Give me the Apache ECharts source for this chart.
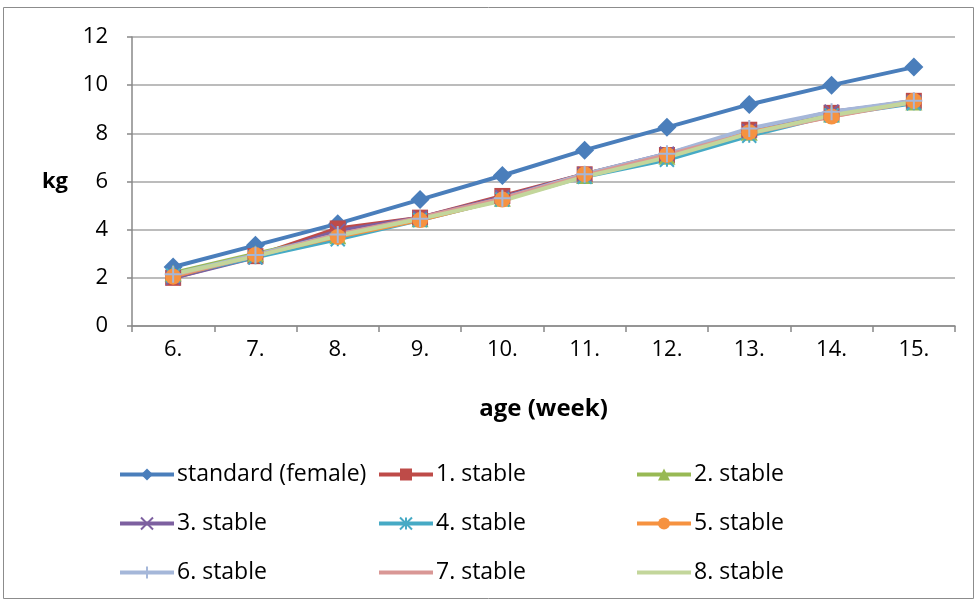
<!DOCTYPE html>
<html>
<head>
<meta charset="utf-8">
<script src="https://cdn.jsdelivr.net/npm/echarts@6/dist/echarts.min.js"></script>
<style>
  html, body { margin: 0; padding: 0; background: #fff; }
  #chart { width: 977px; height: 604px; }
</style>
</head>
<body>
<div id="chart"></div>
<script>
// Weekly body weight (kg) by age: female standard vs. eight stables
const weeks = ['6.', '7.', '8.', '9.', '10.', '11.', '12.', '13.', '14.', '15.'];
const yTicks = { min: 0, max: 12, step: 2 };

const standardFemale = [2.45, 3.35, 4.25, 5.25, 6.25, 7.3, 8.25, 9.2, 10.0, 10.75];
const stable1 = [2.0, 2.9, 4.05, 4.5, 5.4, 6.3, 7.1, 8.15, 8.85, 9.35];
const stable2 = [2.2, 3.0, 3.75, 4.45, 5.3, 6.25, 7.05, 8.05, 8.8, 9.3];
const stable3 = [2.0, 2.85, 3.95, 4.5, 5.35, 6.3, 7.15, 8.1, 8.9, 9.3];
const stable4 = [2.1, 2.85, 3.6, 4.4, 5.25, 6.2, 6.9, 7.9, 8.75, 9.25];
const stable5 = [2.05, 2.95, 3.7, 4.4, 5.25, 6.3, 7.1, 8.05, 8.7, 9.35];
const stable6 = [2.15, 2.95, 3.8, 4.45, 5.3, 6.3, 7.15, 8.2, 8.9, 9.35];
const stable7 = [2.1, 2.9, 3.8, 4.5, 5.3, 6.25, 7.1, 8.0, 8.7, 9.3];
const stable8 = [2.15, 2.9, 3.75, 4.45, 5.2, 6.2, 7.0, 8.0, 8.75, 9.3];

const seriesNames = ['standard (female)', '1. stable', '2. stable', '3. stable', '4. stable',
                     '5. stable', '6. stable', '7. stable', '8. stable'];
const seriesData = [standardFemale, stable1, stable2, stable3, stable4,
                    stable5, stable6, stable7, stable8];

const FONT = '"Open Sans", Lato, sans-serif';
const colors = ['#4A7EBB', '#BE4B48', '#98B954', '#7D60A0', '#46AAC5',
                '#F69240', '#A5B7D9', '#D99795', '#C3D69B'];
const crossPath = 'path://M0,0L10,10M10,0L0,10';
const starPath = 'path://M0,0L10,10M10,0L0,10M5,0L5,10';
const plusPath = 'path://M5,0L5,10M0,5L10,5';
const symbols = [
  { s: 'diamond', size: 19, stroke: false },
  { s: 'rect', size: 16, stroke: false },
  { s: 'triangle', size: 17, stroke: false },
  { s: crossPath, size: 14, stroke: true },
  { s: starPath, size: 14, stroke: true },
  { s: 'circle', size: 16, stroke: false },
  { s: plusPath, size: 17, stroke: true },
  { s: 'none', size: 0, stroke: false },
  { s: 'none', size: 0, stroke: false }
];

const series = seriesNames.map((name, i) => ({
  name,
  type: 'line',
  data: seriesData[i],
  symbol: symbols[i].s,
  symbolSize: symbols[i].size,
  showSymbol: symbols[i].s !== 'none',
  lineStyle: { color: colors[i], width: 4 },
  itemStyle: symbols[i].stroke
    ? { color: colors[i], borderColor: colors[i], borderWidth: 2 }
    : { color: colors[i], borderWidth: 0 },
  emphasis: { disabled: true },
  animation: false
}));

// legend: 3 columns x 3 rows, one entry per legend box
const colLeft = [118, 377, 635];
const rowTop = [463, 512, 561];
const legends = seriesNames.map((name, i) => ({
  data: [symbols[i].s === 'none'
    ? { name, itemStyle: { opacity: 0 } }
    : { name }],
  left: colLeft[i % 3],
  top: rowTop[Math.floor(i / 3)],
  padding: 0,
  itemGap: 0,
  itemWidth: 54,
  itemHeight: 15,
  selectedMode: false,
  lineStyle: { width: 4 },
  textStyle: { fontFamily: FONT, fontSize: 23, color: '#000', padding: [0, 0, 0, -2] }
}));

const chart = echarts.init(document.getElementById('chart'), null, { renderer: 'canvas' });
chart.setOption({
  backgroundColor: '#fff',
  animation: false,
  color: colors,
  graphic: [{
    type: 'rect',
    shape: { x: 3.5, y: 7.5, width: 970, height: 591 },
    style: { fill: 'none', stroke: '#8c8c8c', lineWidth: 1 },
    silent: true
  }],
  grid: { left: 132, top: 37, right: 22, bottom: 278, containLabel: false },
  legend: legends,
  xAxis: {
    type: 'category',
    data: weeks,
    boundaryGap: true,
    name: 'age (week)',
    nameLocation: 'middle',
    nameGap: 71,
    nameTextStyle: { fontFamily: FONT, fontSize: 24, fontWeight: 'bold', color: '#000' },
    axisLine: { lineStyle: { color: '#888', width: 1.5 } },
    axisTick: { show: true, length: 6, lineStyle: { color: '#888', width: 1.5 } },
    axisLabel: { fontFamily: FONT, fontSize: 22, color: '#000', margin: 13 },
    splitLine: { show: false }
  },
  yAxis: {
    type: 'value',
    min: yTicks.min,
    max: yTicks.max,
    interval: yTicks.step,
    name: 'kg',
    nameLocation: 'middle',
    nameRotate: 0,
    nameGap: 64,
    nameTextStyle: { fontFamily: FONT, fontSize: 22, fontWeight: 'bold', color: '#000' },
    axisLine: { show: true, lineStyle: { color: '#888', width: 1.5 } },
    axisTick: { show: true, length: 5, lineStyle: { color: '#888', width: 1.5 } },
    axisLabel: { fontFamily: FONT, fontSize: 22, color: '#000', margin: 24 },
    splitLine: { lineStyle: { color: '#a6a6a6', width: 1.5 } }
  },
  series
});
</script>
</body>
</html>
